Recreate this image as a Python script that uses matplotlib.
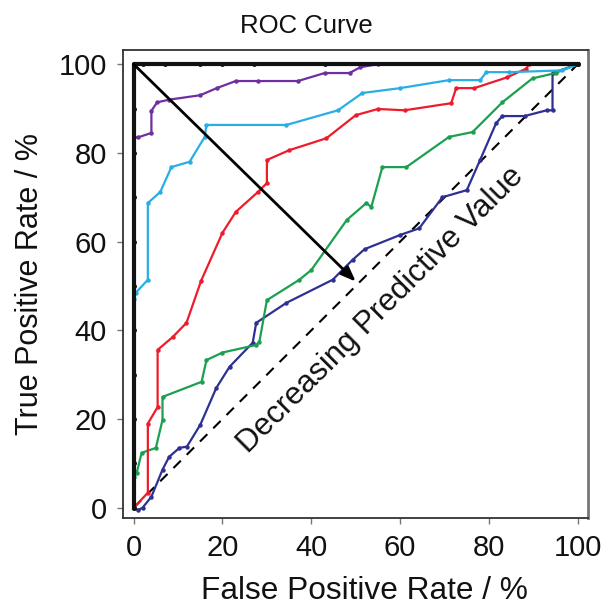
import matplotlib
matplotlib.use("Agg")
import matplotlib.pyplot as plt

plt.rcParams['font.family'] = ['Liberation Sans', 'DejaVu Sans']

purple_x = [0, 1, 4, 4, 5.3, 8, 15, 18.7, 23, 28, 37, 43, 48.6, 51, 55, 100]
purple_y = [83.5, 83.5, 84.5, 89.5, 91.4, 92, 93, 94.6, 96.2, 96.2, 96.2, 98, 98, 99.3, 100, 100]

cyan_x = [0, 0.5, 3.2, 3.2, 6, 8.5, 12.6, 16, 16.4, 34.4, 46, 51.5, 60, 71, 78, 79.4, 84.6, 96.5, 100]
cyan_y = [47, 48.5, 51.4, 68.7, 71.2, 76.8, 78, 83.6, 86.3, 86.3, 89.6, 93.5, 94.6, 96.4, 96.4, 98.2, 98.2, 98.6, 100]

red_x = [0, 3.2, 3.2, 5.4, 5.4, 8.8, 11.9, 15.2, 20, 23, 28, 30, 30, 35, 43.4, 50, 55, 61, 71.5, 72.6, 76.7, 84, 88.4, 89, 100]
red_y = [0, 3.4, 19, 22.7, 35.6, 38.5, 41.7, 51.2, 62, 66.7, 71.2, 73.2, 78.4, 80.6, 83.3, 88.5, 89.9, 89.6, 91.2, 94.6, 94.6, 97, 99, 100, 100]

green_x = [0, 0.7, 1.8, 5, 6.5, 6.5, 15.3, 16.4, 20, 27.6, 28.3, 30, 37.3, 40, 48, 52.4, 53.5, 56, 61.4, 71, 76.3, 83, 89.8, 95, 100]
green_y = [7, 7.9, 12.4, 13.5, 19.8, 25, 28.4, 33.3, 35, 36.7, 37.4, 46.8, 51.4, 53.6, 64.9, 68.7, 67.8, 76.8, 76.8, 83.6, 84.7, 91.4, 96.8, 98, 100]

navy_x = [0, 1, 2, 4, 6.5, 8, 10.3, 12, 15, 18.6, 21.6, 26.8, 27.6, 34.4, 44.8, 49.3, 52, 60, 64.3, 69.5, 75, 78, 81.6, 83, 88, 93, 94.3, 94.3, 100]
navy_y = [0, -0.5, 0, 2.5, 8.6, 11.5, 13.5, 13.8, 18.7, 27, 31.8, 37.2, 41.7, 46.2, 51.4, 55.9, 58.3, 61.5, 63, 70, 71.6, 78.4, 86.7, 88.3, 88.3, 89.6, 89.6, 98, 100]

black_x = [0, 0, 0, 0, 0, 0, 0, 0, 0, 0, 0, 2, 7, 15, 20, 27, 43, 100]
black_y = [0, 10, 20, 30, 40, 50, 60, 70, 80, 90, 100, 100, 100, 100, 100, 100, 100, 100]

chance_x = [0, 100]
chance_y = [0, 100]

arrow_start = (0, 100)
arrow_end = (50, 51)

xticks = [0, 20, 40, 60, 80, 100]
yticks = [0, 20, 40, 60, 80, 100]

fig = plt.figure(figsize=(6.04, 6.05), dpi=100)
ax = fig.add_axes([0.2036, 0.1438, 0.77, 0.7736])

ax.plot(chance_x, chance_y, color='black', lw=1.5, ls=(0, (5, 4)), zorder=1)

series = [
    (navy_x, navy_y, '#2e3192'),
    (green_x, green_y, '#1ba04f'),
    (red_x, red_y, '#ee1c2b'),
    (cyan_x, cyan_y, '#29aee3'),
    (purple_x, purple_y, '#6f2f9f'),
]
for xs, ys, c in series:
    ax.plot(xs, ys, color=c, lw=1.6, marker='o', ms=2.2, zorder=2)

ax.plot(black_x, black_y, color='#111111', lw=3.0, marker='o', ms=2.5, zorder=3)

ax.annotate('', xy=arrow_end, xytext=arrow_start,
            arrowprops=dict(arrowstyle='-|>,head_length=0.9,head_width=0.35',
                            color='black', lw=2.0, shrinkA=0, shrinkB=0), zorder=4)

ax.text(55.6, 44.6, 'Decreasing Predictive Value', rotation=45, rotation_mode='anchor',
        ha='center', va='center', fontsize=22.5, color='#111111')

ax.set_xlim(-2.4, 102.3)
ax.set_ylim(-2.3, 103.2)
ax.set_xticks(xticks)
ax.set_yticks(yticks)
ax.tick_params(axis='both', direction='out', length=4.5, width=1, color='#777777',
               labelsize=21, pad=7, labelcolor='#111111')

for s in ax.spines.values():
    s.set_color('#333333')
    s.set_linewidth(1.3)
ax.spines['right'].set_color('#777777')
ax.spines['right'].set_linewidth(2.0)

fig.text(0.508, 1 - 33 / 605, 'ROC Curve', fontsize=18.5, ha='center', va='baseline',
         color='#111111')
ax.set_xlabel('False Positive Rate / %', fontsize=22.8, labelpad=10, color='#111111')
ax.xaxis.set_label_coords(0.519, -0.123)
ax.set_ylabel('True Positive Rate / %', fontsize=22, labelpad=10, color='#111111')

fig.savefig('out.png', dpi=100)
